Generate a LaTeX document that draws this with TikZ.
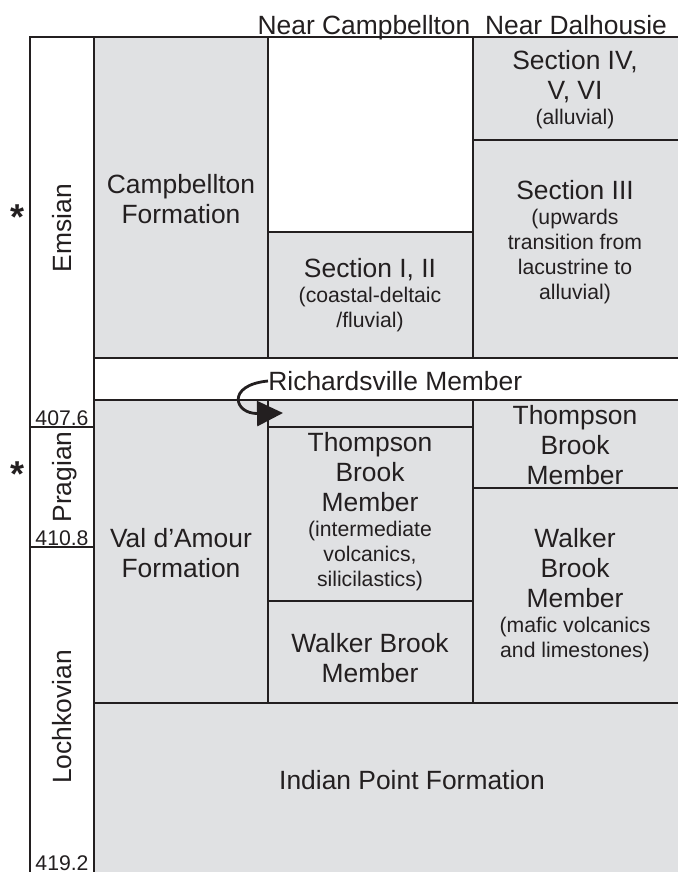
\documentclass[tikz,border=0pt]{standalone}
\usepackage{fontspec}
\setmainfont{Liberation Sans}
\usetikzlibrary{arrows.meta}
\definecolor{unitgray}{RGB}{224,225,227}
\definecolor{ink}{RGB}{35,31,32}
\tikzset{cell/.style={draw=ink, line width=0.65pt, fill=unitgray},
         blankcell/.style={draw=ink, line width=0.65pt, fill=white},
         border/.style={draw=ink, line width=1.1pt},
         unit/.style={align=center, inner sep=0pt, text=ink, font=\fontsize{13.2}{15}\selectfont},
         stage/.style={rotate=90, anchor=base, inner sep=0pt, text=ink, font=\fontsize{13.2}{15}\selectfont},
         age/.style={anchor=base, inner sep=0pt, text=ink, font=\fontsize{10.6}{12}\selectfont},
         star/.style={anchor=base, inner sep=0pt, text=ink, font=\fontsize{18}{18}\selectfont\bfseries},
         }
\newcommand{\detail}{\fontsize{10.6}{12.5}\selectfont}

\begin{document}
\begin{tikzpicture}[x=0.5pt, y=-0.5pt]
\useasboundingbox (0,0) rectangle (677,872);
\draw[blankcell] (30,37) rectangle (94,880);
\draw[ink, line width=0.65pt] (30,427) -- (94,427) (30,547) -- (94,547);
\draw[cell] (94,37) rectangle (268,358);
\draw[blankcell] (268,37) rectangle (473,232);
\draw[cell] (268,232) rectangle (473,358);
\draw[cell] (473,37) rectangle (690,140);
\draw[cell] (473,140) rectangle (690,358);
\draw[blankcell] (94,358) rectangle (690,400);
\draw[cell] (94,400) rectangle (268,703);
\draw[cell] (268,400) rectangle (473,427);
\draw[cell] (268,427) rectangle (473,601);
\draw[cell] (268,601) rectangle (473,703);
\draw[cell] (473,400) rectangle (690,488);
\draw[cell] (473,488) rectangle (690,703);
\draw[cell] (94,703) rectangle (690,890);
\draw[border] (30,890) -- (30,37) -- (690,37);

\node[unit, anchor=base] (campHead) at (364,35) {Near Campbellton};
\node[unit, anchor=base] (dalHead) at (576,35) {Near Dalhousie};

\node[stage] (emsian) at (71,228) {Emsian};
\node[stage] (pragian) at (71,477) {Pragian};
\node[stage] (lochkovian) at (71,717) {Lochkovian};
\node[age] (age1) at (62,425) {407.6};
\node[age] (age2) at (62,545) {410.8};
\node[age] (age3) at (62,870) {419.2};
\node[star] (star1) at (18,229) {*};
\node[star] (star2) at (18,486) {*};

\node[unit] (campFm) at (181,199) {Campbellton\\Formation};
\node[unit] (sec456) at (575,90) {Section IV,\\V, VI\\[-2.5pt]\detail (alluvial)};
\node[unit] (sec3) at (575,242) {Section III\\[-2.5pt]\detail (upwards\\[-2.5pt]\detail transition from\\[-2.5pt]\detail lacustrine to\\[-2.5pt]\detail alluvial)};
\node[unit] (sec12) at (370,295) {Section I, II\\[-2.5pt]\detail (coastal-deltaic\\[-2.5pt]\detail /fluvial)};
\node[unit, anchor=west] (rich) at (268,381) {Richardsville Member};
\node[unit] (valFm) at (181,553) {Val d'Amour\\Formation};
\node[unit] (thomC) at (370,512) {Thompson\\Brook\\Member\\[-2.5pt]\detail (intermediate\\[-2.5pt]\detail volcanics,\\[-2.5pt]\detail silicilastics)};
\node[unit] (walkC) at (370,658) {Walker Brook\\Member};
\node[unit] (thomD) at (575,445) {Thompson\\Brook\\Member};
\node[unit] (walkD) at (575,595) {Walker\\Brook\\Member\\[-2.5pt]\detail (mafic volcanics\\[-2.5pt]\detail and limestones)};
\node[unit] (indianFm) at (412,780) {Indian Point Formation};

\coordinate (gap) at (283,413);
\draw[ink, line width=1.4pt, -{Triangle[length=13pt, width=12.5pt]}] (rich.west) .. controls (226,385) and (234,414) .. (gap);
\end{tikzpicture}
\end{document}
